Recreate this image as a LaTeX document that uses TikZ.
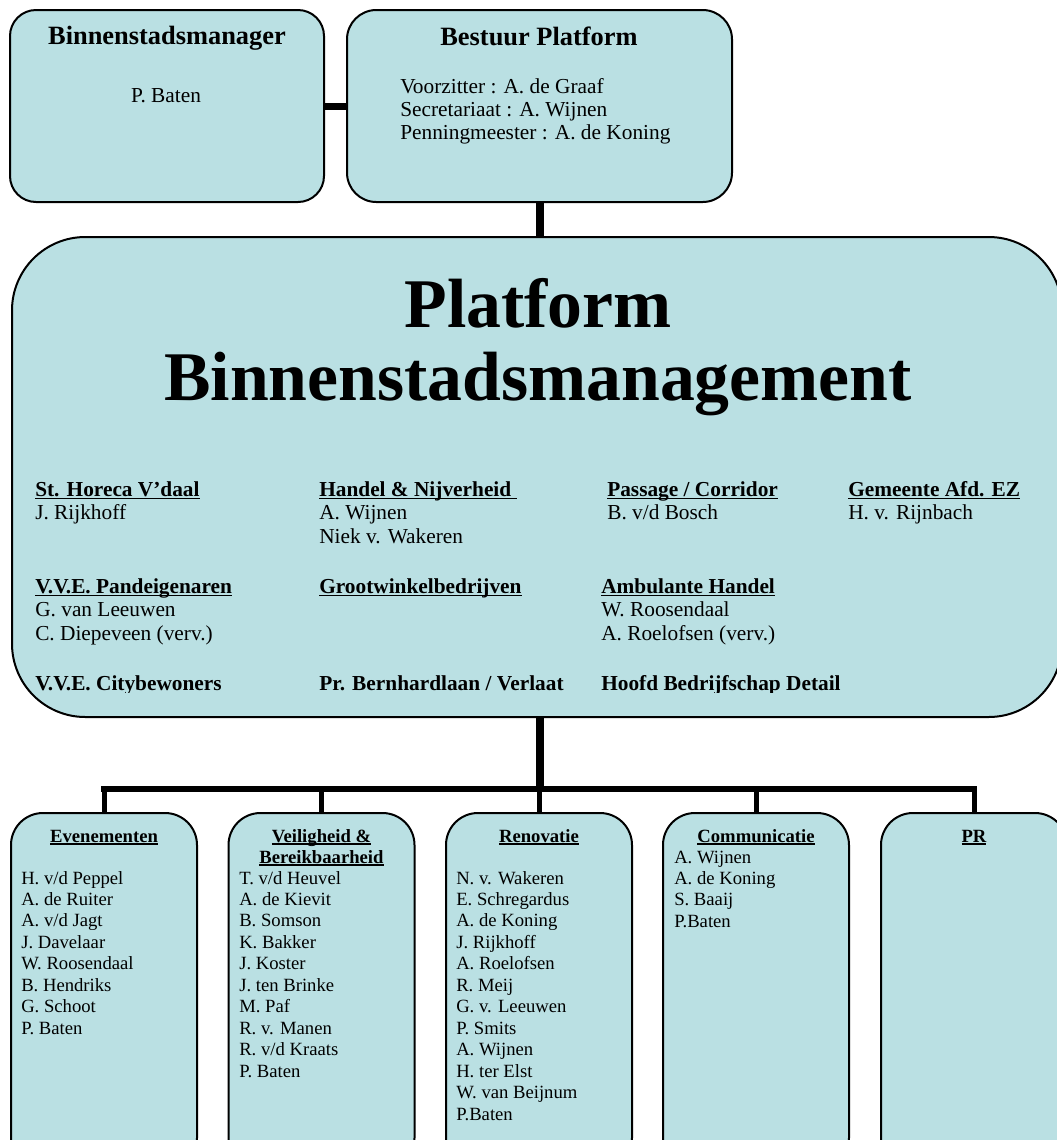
\documentclass[tikz,border=0pt]{standalone}
\usepackage{fontspec}
\setmainfont{Liberation Serif}
\definecolor{boxfill}{RGB}{186,224,227}
\newcommand\myul[1]{\setbox0\hbox{#1}\rlap{\rule[-0.14em]{\wd0}{0.065em}}\box0}
\newcommand\colstack[1]{\begin{tabular}[t]{@{}l@{}}#1\end{tabular}}
\newcommand\cstack[1]{\begin{tabular}[t]{@{}c@{}}#1\end{tabular}}
\begin{document}
\begin{tikzpicture}[x=0.75pt,y=-0.75pt,
  box/.style={draw=black, line width=1.5pt, fill=boxfill, rectangle, inner sep=0pt},
  topbox/.style={box, minimum height=144pt},
  lowbox/.style={box, minimum width=139.5pt, minimum height=267.75pt, rounded corners=24pt},
  lbl/.style={inner sep=0pt, anchor=base west},
  clbl/.style={inner sep=0pt, anchor=base},
  toptitle/.style={clbl, font=\fontsize{19.8}{22}\selectfont\bfseries},
  topbody/.style={lbl, font=\fontsize{16}{17.6}\selectfont},
  maintxt/.style={lbl, font=\fontsize{16}{17.8}\selectfont},
  lowtxt/.style={lbl, font=\fontsize{14}{16.1}\selectfont},
  lowhead/.style={clbl, font=\fontsize{14}{15.8}\selectfont\bfseries},
  conn/.style={line width=#1, draw=black}
]
\clip (0,0) rectangle (1057,1140);

% boxes
\node[topbox, minimum width=235.5pt, rounded corners=19.5pt] (bm) at (167,106) {};
\node[topbox, minimum width=288.75pt, rounded corners=22pt] (bp) at (539.5,106) {};
\node[box, minimum width=787.5pt, minimum height=360pt, rounded corners=55pt] (main) at (537,477) {};
\node[lowbox] (ev) at (104,991.5) {};
\node[lowbox] (vb) at (321.5,991.5) {};
\node[lowbox] (ren) at (539,991.5) {};
\node[lowbox] (com) at (756,991.5) {};
\node[lowbox] (pr) at (974,991.5) {};

% connectors
\coordinate (hub) at (540,789);
\draw[conn=5.25pt] (bm.east) -- (bp.west);
\draw[conn=6pt] (bp.south) -- (bp.south |- main.north);
\draw[conn=6pt] (hub |- main.south) -- (hub);
\draw[conn=4.9pt, shorten <=-1.9pt, shorten >=-1.9pt] (ev.north |- hub) -- (pr.north |- hub);
\foreach \b in {ev,vb,ren,com,pr}{
  \draw[conn=3.75pt] (\b.north |- hub) -- (\b.north);
}

% top boxes text
\node[toptitle] (bmt) at (167,44) {Binnenstadsmanager};
\node[topbody, anchor=base] (bmn) at (166,102) {P. Baten};
\node[toptitle] (bpt) at (539,45) {Bestuur Platform};
\node[topbody] (bpn) at (400,93) {\colstack{Voorzitter : A. de Graaf\\Secretariaat : A. Wijnen\\Penningmeester : A. de Koning}};

% main title
\node[clbl, font=\fontsize{52.3}{54.8}\selectfont\bfseries] (title) at (538,327) {\cstack{Platform\\Binnenstadsmanagement}};

% main box members
\node[maintxt] (m11) at (35,496) {\colstack{\textbf{\myul{St. Horeca V’daal}}\\J. Rijkhoff}};
\node[maintxt] (m12) at (319,496) {\colstack{\textbf{\myul{Handel \& Nijverheid\ }}\\A. Wijnen\\Niek v. Wakeren}};
\node[maintxt] (m13) at (607,496) {\colstack{\textbf{\myul{Passage / Corridor}}\\B. v/d Bosch}};
\node[maintxt] (m14) at (848,496) {\colstack{\textbf{\myul{Gemeente Afd. EZ}}\\H. v. Rijnbach}};
\node[maintxt] (m21) at (35,593) {\colstack{\textbf{\myul{V.V.E. Pandeigenaren}}\\G. van Leeuwen\\C. Diepeveen (verv.)}};
\node[maintxt] (m22) at (319,593) {\colstack{\textbf{\myul{Grootwinkelbedrijven}}}};
\node[maintxt] (m23) at (601,593) {\colstack{\textbf{\myul{Ambulante Handel}}\\W. Roosendaal\\A. Roelofsen (verv.)}};
\begin{scope}
\clip (0,0) rectangle (1057,692.5);
\node[maintxt, font=\fontsize{16}{17.8}\selectfont\bfseries] (m31) at (35,690.5) {V.V.E. Citybewoners};
\node[maintxt, font=\fontsize{16}{17.8}\selectfont\bfseries] (m32) at (319,690.5) {Pr. Bernhardlaan / Verlaat};
\node[maintxt, font=\fontsize{16}{17.8}\selectfont\bfseries] (m33) at (601,690.5) {Hoofd Bedrijfschap Detail};
\end{scope}

% lower boxes text
\node[lowhead] (evh) at (104,842) {\myul{Evenementen}};
\node[lowtxt] (evn) at (21,884) {\colstack{H. v/d Peppel\\A. de Ruiter\\A. v/d Jagt\\J. Davelaar\\W. Roosendaal\\B. Hendriks\\G. Schoot\\P. Baten}};

\node[lowhead] (vbh) at (321.5,842) {\cstack{\myul{Veiligheid \&}\\\myul{Bereikbaarheid}}};
\node[lowtxt] (vbn) at (239,884) {\colstack{T. v/d Heuvel\\A. de Kievit\\B. Somson\\K. Bakker\\J. Koster\\J. ten Brinke\\M. Paf\\R. v. Manen\\R. v/d Kraats\\P. Baten}};

\node[lowhead] (renh) at (539,842) {\myul{Renovatie}};
\node[lowtxt] (renn) at (456,884) {\colstack{N. v. Wakeren\\E. Schregardus\\A. de Koning\\J. Rijkhoff\\A. Roelofsen\\R. Meij\\G. v. Leeuwen\\P. Smits\\A. Wijnen\\H. ter Elst\\W. van Beijnum\\P.Baten}};

\node[lowhead] (comh) at (756,842) {\myul{Communicatie}};
\node[lowtxt] (comn) at (674,863) {\colstack{A. Wijnen\\A. de Koning\\S. Baaij\\P.Baten}};

\node[lowhead] (prh) at (974,842) {\myul{PR}};
\end{tikzpicture}
\end{document}
